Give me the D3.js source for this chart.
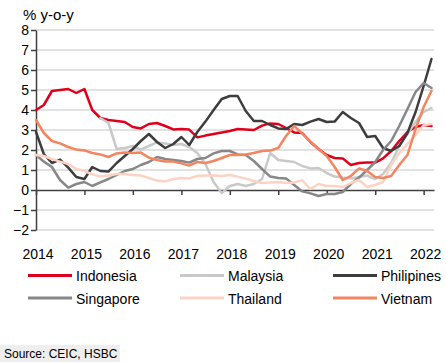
<!DOCTYPE html>
<html>
<head>
<meta charset="utf-8">
<script src="https://cdn.jsdelivr.net/npm/d3@7"></script>
<style>
  body { margin: 0; background: #fff; }
  svg text { font-family: "Liberation Sans", Arial, sans-serif; fill: #000; }
</style>
</head>
<body>
<svg id="chart" width="446" height="363"></svg>
<script>
// bimonthly readings, first point Jan 2014
const startMonth = new Date(2014, 0, 1);
const monthStep = 2;

const indonesia = [4.0, 4.25, 4.95, 5.0, 5.05, 4.85, 5.05, 4.0, 3.6, 3.5, 3.45, 3.4, 3.15, 3.08, 3.3, 3.35, 3.2, 3.03, 3.05, 3.02, 2.63, 2.72, 2.8, 2.88, 2.95, 3.05, 3.03, 3.0, 3.22, 3.33, 3.3, 3.1, 2.88, 2.85, 2.4, 2.05, 1.75, 1.6, 1.58, 1.25, 1.35, 1.38, 1.37, 1.58, 1.95, 2.45, 2.9, 3.15, 3.25, 3.2];
const malaysia = [null, null, null, null, null, null, null, null, 3.6, 3.35, 2.05, 2.1, 2.2, 2.02, 2.2, 2.38, 2.33, 2.25, 2.3, 2.15, 1.85, 1.3, 0.4, -0.15, 0.2, 0.3, 0.2, 0.3, 0.55, 1.85, 1.5, 1.45, 1.4, 1.2, 1.08, 1.1, 0.85, 0.67, 0.62, 0.58, 0.65, 0.72, 0.55, 0.8, 1.35, 2.2, 2.8, 3.4, 3.9, 4.1];
const philippines = [2.9, 1.8, 1.35, 1.52, 1.12, 0.65, 0.55, 1.15, 0.95, 0.92, 1.35, 1.7, 2.05, 2.45, 2.8, 2.4, 2.1, 2.3, 2.65, 2.25, 2.9, 3.42, 4.0, 4.55, 4.7, 4.7, 3.95, 3.45, 3.45, 3.25, 3.08, 3.05, 3.3, 3.25, 3.42, 3.55, 3.4, 3.42, 3.9, 3.6, 3.35, 2.65, 2.7, 2.1, 1.95, 2.2, 2.85, 3.9, 5.2, 6.55];
const singapore = [1.75, 1.42, 1.15, 0.5, 0.12, 0.3, 0.4, 0.2, 0.38, 0.55, 0.75, 0.95, 1.05, 1.25, 1.4, 1.65, 1.55, 1.5, 1.45, 1.37, 1.55, 1.6, 1.83, 1.95, 1.95, 1.78, 1.75, 1.45, 1.05, 0.67, 0.6, 0.58, 0.25, -0.07, -0.17, -0.3, -0.2, -0.2, -0.1, 0.3, 0.62, 1.0, 1.4, 2.0, 2.45, 3.2, 4.05, 4.9, 5.35, 5.1];
const thailand = [1.75, 1.7, 1.55, 1.42, 1.3, 1.05, 0.95, 0.78, 0.67, 0.72, 0.8, 0.8, 0.75, 0.72, 0.6, 0.47, 0.43, 0.55, 0.6, 0.58, 0.7, 0.73, 0.72, 0.7, 0.75, 0.67, 0.57, 0.45, 0.35, 0.37, 0.4, 0.35, 0.38, 0.48, 0.05, 0.3, 0.2, 0.2, 0.15, 0.35, 0.5, 0.15, 0.25, 0.4, 1.25, 1.85, 2.3, 2.75, 3.25, 3.3];
const vietnam = [3.5, 2.85, 2.45, 2.33, 2.15, 2.02, 1.98, 1.85, 1.78, 1.65, 1.83, 1.87, 1.85, 1.87, 1.62, 1.5, 1.43, 1.42, 1.33, 1.22, 1.4, 1.35, 1.45, 1.6, 1.75, 1.75, 1.78, 1.85, 1.95, 1.97, 2.1, 2.7, 3.2, 2.82, 2.42, 2.05, 1.7, 1.15, 0.5, 0.7, 1.08, 0.95, 0.65, 0.6, 0.7, 1.25, 1.75, 3.05, 4.15, 4.95];

const countries = ["Indonesia", "Malaysia", "Philipines", "Singapore", "Thailand", "Vietnam"];
const years = [2014, 2015, 2016, 2017, 2018, 2019, 2020, 2021, 2022];
const yTicks = [-2, -1, 0, 1, 2, 3, 4, 5, 6, 7, 8];

const colors = {
  Indonesia: "#e1001b",
  Malaysia: "#c9c9c9",
  Philipines: "#3d3d3d",
  Singapore: "#878787",
  Thailand: "#fcd3c3",
  Vietnam: "#f3855f"
};

const series = [indonesia, malaysia, philippines, singapore, thailand, vietnam].map(function(vals, i) {
  return {
    name: countries[i],
    values: vals.map(function(v, j) { return { date: d3.timeMonth.offset(startMonth, j * monthStep), v: v }; })
  };
});

const svg = d3.select("#chart");

const x = d3.scaleTime()
.domain([new Date(2014, 0, 1), new Date(2022, 2, 20)])
.range([36, 434]);

const y = d3.scaleLinear()
.domain([-2, 8])
.range([230, 30]);

// gridlines
svg.append("g")
.selectAll("line")
.data(yTicks.filter(function(d) { return d !== 0; }))
.enter().append("line")
.attr("x1", x.range()[0])
.attr("x2", x.range()[1])
.attr("y1", function(d) { return y(d); })
.attr("y2", function(d) { return y(d); })
.attr("stroke", "#d9d9d9")
.attr("stroke-width", 1.5);

// y axis
const yAxis = svg.append("g")
.attr("transform", "translate(36,0)")
.call(d3.axisLeft(y).tickValues(yTicks).tickSize(5).tickSizeOuter(0).tickPadding(2)
  .tickFormat(d3.format("d")));
yAxis.selectAll("path, line").attr("stroke", "#404040").attr("stroke-width", 1.5);
yAxis.selectAll("text").style("font-size", "14px");

// x axis line at zero
const xAxis = svg.append("g")
.attr("transform", "translate(0," + y(0) + ")")
.call(d3.axisBottom(x).tickValues(years.map(function(d) { return new Date(d, 0, 1); }))
  .tickSize(5).tickSizeOuter(0).tickFormat(""));
xAxis.selectAll("path, line").attr("stroke", "#404040").attr("stroke-width", 1.5);

// year labels under the plot
const xLabels = svg.append("g")
.attr("transform", "translate(0," + y(-2) + ")")
.call(d3.axisBottom(x).tickValues(years.map(function(d) { return new Date(d, 0, 1); }))
  .tickSize(0).tickPadding(19).tickFormat(d3.timeFormat("%Y")));
xLabels.select(".domain").remove();
xLabels.selectAll("text").attr("x", 1.5).style("font-size", "14px");

// lines
const line = d3.line()
.defined(function(d) { return d.v !== null; })
.x(function(d) { return x(d.date); })
.y(function(d) { return y(d.v); });

svg.append("g")
.selectAll("path")
.data(series)
.enter().append("path")
.attr("d", function(d) { return line(d.values); })
.attr("fill", "none")
.attr("stroke", function(d) { return colors[d.name]; })
.attr("stroke-width", 2.5)
.attr("stroke-linejoin", "round")
.attr("stroke-linecap", "round");

// title
svg.append("text")
.attr("x", 23)
.attr("y", 20)
.style("font-size", "15px")
.text("% y-o-y");

// legend, 3 columns x 2 rows
const legendX = [28, 180, 333];
const legendY = [275.5, 298];
const legend = svg.append("g")
.selectAll("g")
.data(countries)
.enter().append("g")
.attr("transform", function(d, i) { return "translate(" + legendX[i % 3] + "," + legendY[Math.floor(i / 3)] + ")"; });

legend.append("line")
.attr("x1", 0)
.attr("x2", 44)
.attr("stroke", function(d) { return colors[d]; })
.attr("stroke-width", 3);

legend.append("text")
.attr("x", 48)
.attr("y", 5.5)
.style("font-size", "14px")
.text(function(d) { return d; });

// source
svg.append("rect")
.attr("x", 0)
.attr("y", 345)
.attr("width", 120)
.attr("height", 17)
.attr("fill", "#eeeeee");

svg.append("text")
.attr("x", 4)
.attr("y", 358)
.style("font-size", "12px")
.text("Source: CEIC, HSBC");
</script>
</body>
</html>
